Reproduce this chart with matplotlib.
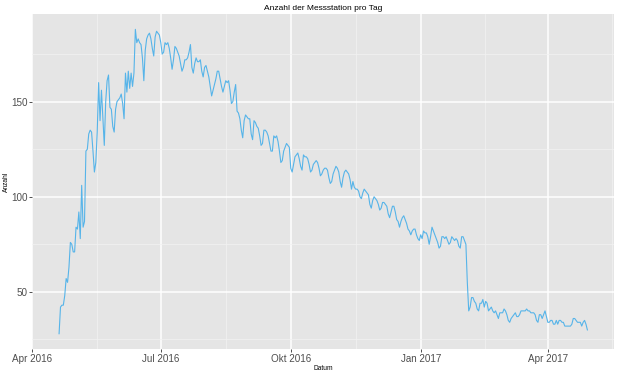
import pandas as pd
import matplotlib.pyplot as plt

# Schrift aehnlich wie Helvetica/Arial
plt.rcParams['font.family'] = 'Liberation Sans'

# Tageswerte ab 20.04.2016
start = "2016-04-20"
werte_apr_jul = [28, 42, 43, 43, 48, 57, 55, 63, 76, 75,
                 71, 71, 84, 83, 92, 78, 106, 84, 87, 124,
                 125, 133, 135, 134, 124, 113, 118, 134, 160, 140,
                 156, 141, 127, 150, 161, 164, 147, 146, 137, 134,
                 146, 150, 151, 152, 154, 149, 141, 165, 155, 166,
                 157, 165, 158, 165, 188, 181, 183, 181, 180, 173,
                 161, 177, 183, 185, 186, 183, 178, 174, 184, 187,
                 186, 185, 181, 175, 176, 181, 180, 181, 178, 173,
                 167, 172, 179, 178, 176]
werte_jul_sep = [174, 170, 166, 168, 172, 172, 173, 176, 180, 168,
                 165, 170, 173, 171, 171, 172, 166, 163, 168, 169,
                 166, 163, 158, 153, 156, 159, 162, 166, 166, 162,
                 158, 155, 158, 161, 160, 161, 156, 149, 150, 155,
                 159, 145, 144, 141, 135, 131, 140, 143, 142, 141,
                 141, 133, 130, 140, 139, 137, 136, 132, 127, 128,
                 135, 135, 134, 132, 128, 124, 124, 132, 131, 132,
                 129, 124, 118, 119, 124, 126, 128, 127, 126]
werte_okt_dez = [115, 113, 117, 121, 122, 123, 120, 116, 114, 122,
                 121, 121, 120, 117, 113, 114, 117, 118, 119, 118,
                 115, 111, 112, 114, 115, 115, 114, 110, 107, 108,
                 112, 114, 116, 115, 113, 108, 105, 110, 113, 114,
                 113, 112, 109, 104, 108, 105, 104, 104, 103, 100,
                 99, 102, 104, 103, 102, 101, 96, 94, 98, 100,
                 99, 98, 96, 93, 94, 97, 97, 96, 95, 91,
                 89, 92, 95, 95, 92, 88, 87, 84, 87, 89,
                 90, 88, 86, 83]
werte_dez_mar = [82, 80, 82, 83, 83, 80, 78, 77, 80, 78,
                 82, 81, 81, 79, 75, 79, 84, 82, 80, 78,
                 76, 73, 74, 79, 79, 78, 79, 77, 75, 76,
                 79, 78, 77, 78, 77, 74, 73, 79, 79, 77,
                 75, 55, 40, 42, 47, 47, 45, 44, 41, 40,
                 44, 44, 46, 42, 45, 44, 40, 41, 42, 40,
                 39, 40, 38, 36, 39, 39, 39, 41, 40, 38,
                 35, 34, 36, 37, 38, 39, 37, 37]
werte_mar_apr = [38, 40, 40, 40, 40, 41, 40, 40, 39, 39,
                 39, 38, 35, 34, 38, 38, 36, 38, 40, 37,
                 34, 34, 35, 35, 33, 33, 35, 33, 35, 35,
                 34, 34, 32, 32, 32, 32, 32, 33, 36, 36,
                 35, 34, 34, 34, 32, 34, 35, 33, 30]

anzahl = werte_apr_jul + werte_jul_sep + werte_okt_dez + werte_dez_mar + werte_mar_apr
datum = pd.date_range(start, periods=len(anzahl), freq="D")

x_ticks = pd.to_datetime(["2016-04-01", "2016-07-01", "2016-10-01", "2017-01-01", "2017-04-01"])
x_labels = ["Apr 2016", "Jul 2016", "Okt 2016", "Jan 2017", "Apr 2017"]
x_minor = pd.to_datetime(["2016-05-16 12:00", "2016-08-16 00:00", "2016-11-16 00:00",
                          "2017-02-15 12:00", "2017-05-16 12:00"])
y_ticks = [50, 100, 150]
y_minor = [25, 75, 125, 175]

fig, ax = plt.subplots(figsize=(6.2, 3.72), dpi=100)
fig.subplots_adjust(left=0.052, right=0.990, top=0.962, bottom=0.062)

ax.set_facecolor("#E5E5E5")
ax.plot(datum, anzahl, color="#56B4E9", linewidth=0.8)

# Achsen wie ggplot (5% Rand)
span = datum[-1] - datum[0]
ax.set_xlim(datum[0] - span * 0.05, datum[-1] + span * 0.05)
rng = max(anzahl) - min(anzahl)
ax.set_ylim(min(anzahl) - rng * 0.05, max(anzahl) + rng * 0.05)

ax.set_xticks(x_ticks)
ax.set_xticklabels(x_labels)
ax.set_xticks(x_minor, minor=True)
ax.set_yticks(y_ticks)
ax.set_yticks(y_minor, minor=True)

ax.grid(which="major", color="white", linewidth=1.1)
ax.grid(which="minor", color="#F2F2F2", linewidth=0.5)
ax.set_axisbelow(True)
for s in ax.spines.values():
    s.set_visible(False)

ax.tick_params(which="major", length=2, width=0.6, color="#333333",
               labelsize=7.1, labelcolor="#4D4D4D", pad=1.5)
ax.tick_params(which="minor", length=0)

ax.set_title("Anzahl der Messstation pro Tag", fontsize=6, pad=3)
ax.set_xlabel("Datum", fontsize=4.8, labelpad=1)
ax.set_ylabel("Anzahl", fontsize=4.8, labelpad=1)

plt.savefig("out.png", dpi=100)
